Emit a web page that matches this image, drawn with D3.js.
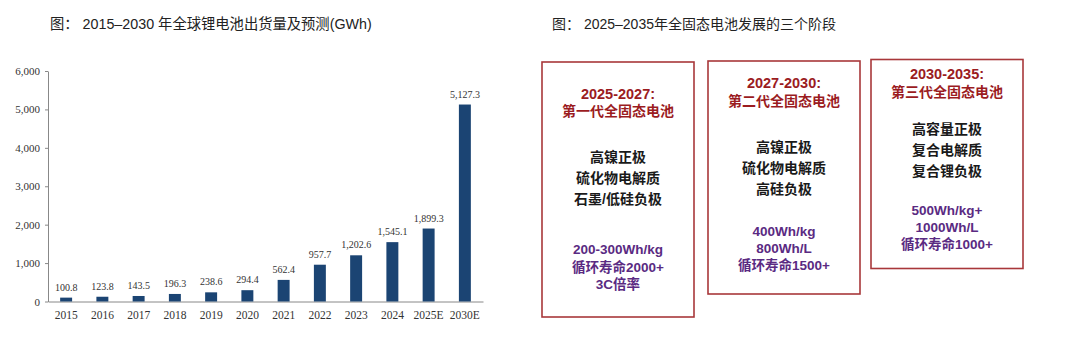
<!DOCTYPE html>
<html><head><meta charset="utf-8">
<script src="https://cdn.jsdelivr.net/npm/d3@7"></script>
<style>body{margin:0;background:#fff;}svg{display:block;}</style>
</head><body>
<svg id="c" width="1080" height="339"></svg>
<script>
const years = ["2015","2016","2017","2018","2019","2020","2021","2022","2023","2024","2025E","2030E"];
const shipments = [100.8,123.8,143.5,196.3,238.6,294.4,562.4,957.7,1202.6,1545.1,1899.3,5127.3];
const yTicks = [0,1000,2000,3000,4000,5000,6000];
const leftTitle = "图： 2015–2030 年全球锂电池出货量及预测(GWh)";
const rightTitle = "图： 2025–2035年全固态电池发展的三个阶段";
const stagePeriods = ["2025-2027:","2027-2030:","2030-2035:"];
const stageNames = ["第一代全固态电池","第二代全固态电池","第三代全固态电池"];
const stageMaterials = [["高镍正极","硫化物电解质","石墨/低硅负极"],["高镍正极","硫化物电解质","高硅负极"],["高容量正极","复合电解质","复合锂负极"]];
const stageSpecs = [["200-300Wh/kg","循环寿命2000+","3C倍率"],["400Wh/kg","800Wh/L","循环寿命1500+"],["500Wh/kg+","1000Wh/L","循环寿命1000+"]];

const svg = d3.select("#c");
const sansCjk = "'Liberation Sans','Noto Sans CJK SC',sans-serif";
const serif = "'Liberation Serif','Times New Roman',serif";

// titles
svg.append("text").attr("x",50).attr("y",29).attr("font-family",sansCjk).attr("font-size",14.3).attr("fill","#222").text(leftTitle);
svg.append("text").attr("x",552).attr("y",29).attr("font-family",sansCjk).attr("font-size",14).attr("fill","#222").text(rightTitle);

// bar chart
const x = d3.scaleBand().domain(years).range([48,483]).paddingInner(0.67).paddingOuter(0.335);
const y = d3.scaleLinear().domain([0,6000]).range([301.5,71]);
const g = svg.append("g");
const fmt = d3.format(",.1f");

const yAxis = g.append("g").attr("transform","translate(48,0)")
  .call(d3.axisLeft(y).tickValues(yTicks).tickFormat(d3.format(",")).tickSize(3).tickSizeOuter(0));
yAxis.select(".domain").attr("stroke","#888");
yAxis.selectAll(".tick line").attr("stroke","#888");
yAxis.selectAll("text").attr("font-family",serif).attr("font-size",11).attr("fill","#333").attr("x",-8);

const xAxis = g.append("g").attr("transform","translate(0,301.5)")
  .call(d3.axisBottom(x).tickSize(0).tickSizeOuter(0));
xAxis.select(".domain").attr("stroke","#888");
xAxis.selectAll("text").attr("font-family",serif).attr("font-size",11.5).attr("fill","#333").attr("dy","1.25em");

g.selectAll("rect.bar").data(years).enter().append("rect")
  .attr("x",d=>x(d)).attr("width",x.bandwidth())
  .attr("y",(d,i)=>y(shipments[i])).attr("height",(d,i)=>y(0)-y(shipments[i]))
  .attr("fill","#1b4473");
g.selectAll("text.val").data(years).enter().append("text")
  .attr("x",d=>x(d)+x.bandwidth()/2).attr("y",(d,i)=>y(shipments[i])-7)
  .attr("text-anchor","middle").attr("font-family",serif).attr("font-size",10).attr("fill","#333")
  .text((d,i)=>fmt(shipments[i]));

// stage boxes
const boxes = [
  {x:542,y:62,w:152,h:255,top:93.5,mat:157,spec:249.5},
  {x:708,y:61,w:152,h:233,top:83,mat:147,spec:231},
  {x:871,y:59.5,w:152,h:209,top:74,mat:129,spec:210}
];
const lh = 21, lhSpec = 17.3;
boxes.forEach((b,i)=>{
  const bg = svg.append("g");
  bg.append("rect").attr("x",b.x).attr("y",b.y).attr("width",b.w).attr("height",b.h)
    .attr("fill","none").attr("stroke","#a8373a").attr("stroke-width",1.6);
  const cx = b.x + b.w/2;
  const t = (txt,yy,col,fs)=>bg.append("text").attr("x",cx).attr("y",yy).attr("dy","0.36em")
    .attr("text-anchor","middle").attr("font-family",sansCjk).attr("font-weight","bold")
    .attr("font-size",fs).attr("fill",col).text(txt);
  t(stagePeriods[i], b.top, "#9b1c1f", 14.5);
  t(stageNames[i], b.top+17.5, "#9b1c1f", 14);
  stageMaterials[i].forEach((m,j)=>t(m, b.mat+j*lh, "#1a1a1a", 14));
  stageSpecs[i].forEach((s,j)=>t(s, b.spec+j*lhSpec, "#5a2a82", 13.5));
});
</script>
</body></html>
